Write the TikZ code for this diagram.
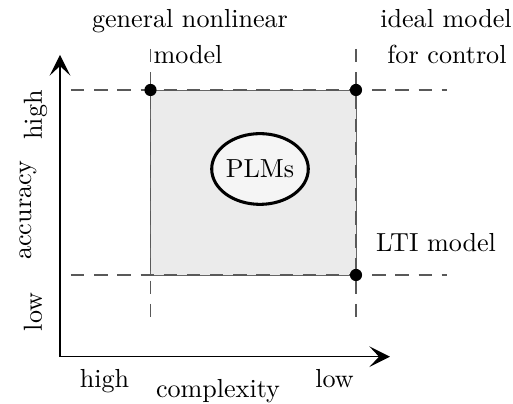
\documentclass[tikz,border=0pt]{standalone}
\usetikzlibrary{arrows.meta,shapes.geometric}
\begin{document}
\begin{tikzpicture}[x=0.41pt,y=-0.41pt,
  every node/.style={font=\fontsize{10.7}{13}\selectfont},
  guide/.style={dash pattern=on 5.5pt off 4pt, draw=black!65, line width=0.45pt},
  axis/.style={line width=0.55pt, -{Stealth[length=8.5pt,width=8.5pt,inset=4pt]}},
  corner/.style={circle, fill=black, inner sep=0pt, minimum size=5pt},
  lbl/.style={anchor=base, inner sep=0pt},
  vlbl/.style={anchor=base, inner sep=0pt, rotate=90}]
\useasboundingbox (0,0) rectangle (513,404);

% region of piecewise linear models
\fill[black!8] (150.5,90) rectangle (356,275);
\draw[black!60, line width=0.4pt] (150.5,90) rectangle (356,275);

% guide lines
\coordinate (hTopL) at (71,90);   \coordinate (hTopR) at (447,90);
\coordinate (hBotL) at (71,275);  \coordinate (hBotR) at (447,275);
\coordinate (vLeftT) at (150.5,49);  \coordinate (vLeftB) at (150.5,327);
\coordinate (vRightT) at (356,49);   \coordinate (vRightB) at (356,327);
\draw[guide] (hTopL) -- (hTopR);
\draw[guide] (hBotL) -- (hBotR);
\draw[guide] (vLeftT) -- (vLeftB);
\draw[guide] (vRightT) -- (vRightB);

% axes
\coordinate (origin) at (60,356.7);
\coordinate (ytip) at (60,55);
\coordinate (xtip) at (390,356.7);
\draw[axis] (origin) -- (ytip);
\draw[axis] (origin) -- (xtip);

% corner points
\node[corner] (gnm) at (150.5,90) {};
\node[corner] (ideal) at (356,90) {};
\node[corner] (lti) at (356,275) {};

% piecewise linear models
\node[ellipse, draw=black, line width=1.25pt, fill=black!4,
      minimum width=39pt, minimum height=29pt, inner sep=0pt] (plm) at (260,169) {PLMs};

% corner labels
\node[lbl] (gnmA) at (190,28) {general nonlinear};
\node[lbl] (gnmB) at (188,64) {model};
\node[lbl] (idealA) at (446,28) {ideal model};
\node[lbl] (idealB) at (447,64) {for control};
\node[lbl] (ltiL) at (436,252) {LTI model};

% axis labels
\node[lbl] (xhigh) at (104.5,388) {high};
\node[lbl] (xname) at (218,398) {complexity};
\node[lbl] (xlow) at (334.5,388) {low};
\node[vlbl] (yhigh) at (42,115) {high};
\node[vlbl] (yname) at (31,210) {accuracy};
\node[vlbl] (ylow) at (42,312) {low};
\end{tikzpicture}
\end{document}
